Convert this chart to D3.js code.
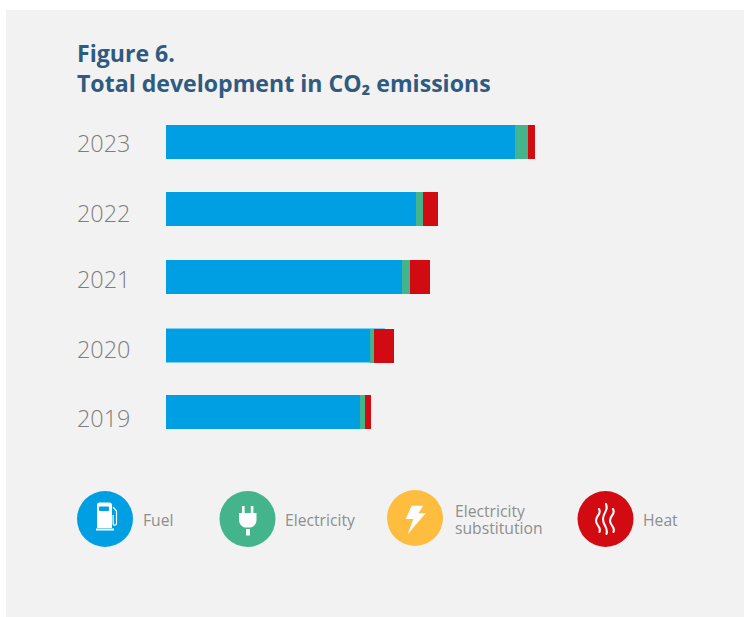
<!DOCTYPE html>
<html>
<head>
<meta charset="utf-8">
<script src="https://cdn.jsdelivr.net/npm/d3@7"></script>
<style>
  html, body { margin: 0; padding: 0; background: #fff; }
  svg { display: block; }
</style>
</head>
<body>
<svg id="chart" width="744" height="617"></svg>
<script>
const years = ["2023", "2022", "2021", "2020", "2019"];
const fuel = [349, 250, 236, 204, 194];
const electricity = [13, 7, 8, 4, 5];
const substitution = [0, 0, 0, 0, 0];
const heat = [7, 15, 20, 20, 6];

const seriesKeys = ["Fuel", "Electricity", "Electricity substitution", "Heat"];
const seriesColors = ["#009fe3", "#43b48c", "#ffbd3f", "#d20a11"];
const titleLines = ["Figure 6.", "Total development in CO₂ emissions"];

const svg = d3.select("#chart");
const FONT = "'Open Sans', sans-serif";

svg.append("rect").attr("x", 6).attr("y", 10).attr("width", 738).attr("height", 607).attr("fill", "#f2f2f2");

svg.selectAll("text.title").data(titleLines).join("text")
  .attr("class", "title")
  .attr("x", 77)
  .attr("y", (d, i) => 62 + i * 29.5)
  .attr("font-family", FONT)
  .attr("font-weight", 700)
  .attr("font-size", 23.1)
  .attr("fill", "#2f5b80")
  .text(d => d);

// Stacked rows
const x = d3.scaleLinear().domain([0, 400]).range([166, 566]);
const rowTop = d3.scaleOrdinal().domain(years).range([125, 192, 260, 329, 395]);
const labelBase = d3.scaleOrdinal().domain(years).range([152, 222, 288, 358, 427]);
const barHeight = 34;

const table = years.map((year, i) => ({
  year,
  Fuel: fuel[i],
  Electricity: electricity[i],
  "Electricity substitution": substitution[i],
  Heat: heat[i]
}));
const stacked = d3.stack().keys(seriesKeys)(table);
const color = d3.scaleOrdinal().domain(seriesKeys).range(seriesColors);

svg.append("g").selectAll("g").data(stacked).join("g")
  .attr("fill", d => color(d.key))
  .selectAll("rect").data(d => d).join("rect")
  .attr("x", d => x(d[0]))
  .attr("y", d => rowTop(d.data.year))
  .attr("width", d => x(d[1]) - x(d[0]))
  .attr("height", barHeight);

// Pale hairlines along the 2020 fuel bar
const year2020 = "2020";
const fuelEdges = [
  { y: rowTop(year2020) - 1, end: 219 },
  { y: rowTop(year2020) + barHeight - 1, end: fuel[years.indexOf(year2020)] }
];
svg.append("g").selectAll("rect").data(fuelEdges).join("rect")
  .attr("x", x(0))
  .attr("y", d => d.y)
  .attr("width", d => x(d.end) - x(0))
  .attr("height", 1)
  .attr("fill", "#7ccdf0");

svg.append("g").selectAll("text").data(years).join("text")
  .attr("x", 77)
  .attr("y", d => labelBase(d))
  .attr("font-family", FONT)
  .attr("font-weight", 300)
  .attr("font-size", 23.4)
  .attr("fill", "#7d7d7d")
  .text(d => d);

// Legend discs, glyphs and captions
const legendX = d3.scaleOrdinal().domain(seriesKeys).range([105, 247.5, 415, 605.5]);
const legendY = d3.scaleOrdinal().domain(seriesKeys).range([519, 519, 518, 519]);
const legend = svg.append("g").selectAll("g").data(seriesKeys).join("g")
  .attr("transform", d => `translate(${legendX(d)},${legendY(d)})`);
legend.append("circle").attr("r", 28).attr("fill", d => color(d));

const glyphs = {
  "Fuel": g => {
    g.append("path").attr("fill", "#fff").attr("fill-rule", "evenodd")
      .attr("d", "M-8,-14 a2.5,2.5 0 0 1 2.5,-2.5 h10 a2.5,2.5 0 0 1 2.5,2.5 V9 H-8 Z M-6,-11.5 v2.5 a1,1 0 0 0 1,1 h8 a1,1 0 0 0 1,-1 v-2.5 a1,1 0 0 0 -1,-1 h-8 a1,1 0 0 0 -1,1 Z");
    g.append("rect").attr("x", -9).attr("y", 9.5).attr("width", 18).attr("height", 2).attr("fill", "#fff");
    g.append("path").attr("fill", "none").attr("stroke", "#fff").attr("stroke-width", 1.2)
      .attr("d", "M8,-12 L11.5,-8 V4.5 a1.7,1.7 0 0 1 -3.4,0 V-4");
  },
  "Electricity": g => {
    g.append("path").attr("fill", "#fff")
      .attr("d", "M-8.5,-6 H9 V1 C9,5 6,8 3,8.5 H-2.5 C-5.5,8 -8.5,5 -8.5,1 Z");
    g.append("rect").attr("x", -5.5).attr("y", -13).attr("width", 2.6).attr("height", 8).attr("fill", "#fff");
    g.append("rect").attr("x", 3.3).attr("y", -13).attr("width", 2.6).attr("height", 8).attr("fill", "#fff");
    g.append("rect").attr("x", -1.5).attr("y", 10).attr("width", 4).attr("height", 6.5).attr("fill", "#fff");
  },
  "Electricity substitution": g => {
    g.append("path").attr("fill", "#fff")
      .attr("d", "M-3.3,-12.3 H8.3 L3.3,-4.7 H10.7 L-7.3,16.3 L-1.7,1 H-9.3 Z");
  },
  "Heat": g => {
    // Three tapering flame strokes, the middle one tallest
    [-7, 0, 7].forEach((dx, i) => {
      const top = i === 1 ? -15 : -10;
      const bottom = i === 1 ? 15 : 13;
      const h = (bottom - top) / 4;
      const w = 1.1;
      g.append("path").attr("fill", "none").attr("stroke", "#fff").attr("stroke-width", w * 1.9)
        .attr("stroke-linecap", "round")
        .attr("d", `M${dx + 0.5},${top} C${dx + 3.5},${top + h} ${dx - 2.5},${top + h} ${dx - 2.5},${top + 2 * h} C${dx - 2.5},${top + 3 * h} ${dx + 3},${top + 3 * h} ${dx + 1},${bottom}`);
    });
  }
};
legend.each(function(d) { glyphs[d](d3.select(this).append("g")); });

const captionX = d3.scaleOrdinal().domain(seriesKeys).range([143, 285, 455, 643]);
const captionLines = d3.scaleOrdinal().domain(seriesKeys)
  .range([["Fuel"], ["Electricity"], ["Electricity", "substitution"], ["Heat"]]);
const captionBase = d3.scaleOrdinal().domain(seriesKeys).range([[526], [526], [517, 534], [526]]);
const captions = svg.append("g").selectAll("text").data(seriesKeys).join("text")
  .attr("font-family", FONT)
  .attr("font-size", 15.7)
  .attr("fill", "#8e8e8e");
captions.selectAll("tspan").data(d => captionLines(d).map((t, i) => ({ t, x: captionX(d), y: captionBase(d)[i] })))
  .join("tspan")
  .attr("x", d => d.x)
  .attr("y", d => d.y)
  .text(d => d.t);
</script>
</body>
</html>
